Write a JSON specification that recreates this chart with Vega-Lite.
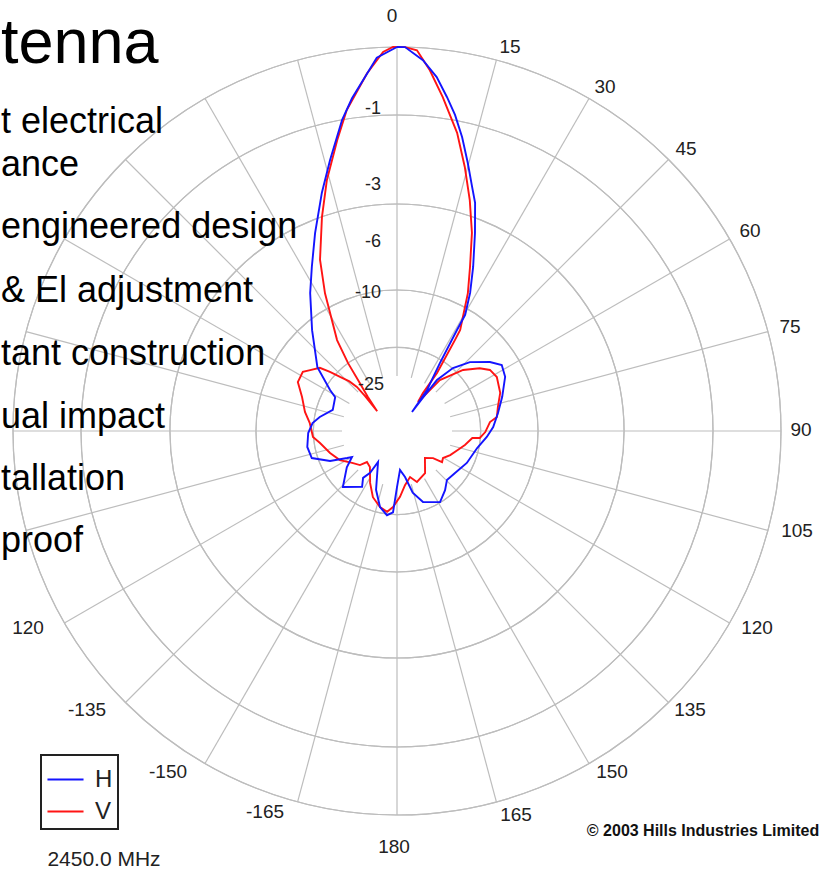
{
  "$schema": "https://vega.github.io/schema/vega-lite/v6.json",
  "width": 836,
  "height": 871,
  "padding": 0,
  "autosize": {"type": "none"},
  "background": "white",
  "config": {
    "view": {"stroke": null},
    "font": "Liberation Sans",
    "legend": {"strokeWidth": 2}
  },
  "layer": [
    {
      "data": {"values": [{"db": 0}, {"db": -1}, {"db": -3}, {"db": -6}, {"db": -10}, {"db": -25}]},
      "mark": {"type": "arc", "filled": false, "stroke": "#bdbdbd", "strokeWidth": 1.2, "theta": 0, "theta2": 6.2832},
      "encoding": {
        "x": {"datum": 0, "type": "quantitative", "scale": {"domain": [-397, 439], "nice": false, "zero": false}, "axis": null},
        "y": {"datum": 0, "type": "quantitative", "scale": {"domain": [-440, 431], "nice": false, "zero": false}, "axis": null},
        "radius": {"field": "db", "type": "quantitative", "scale": {"type": "linear", "domain": [-45, -25, -10, -6, -3, -1, 0], "range": [0, 55, 141, 189, 246, 316, 384], "zero": false, "nice": false}, "legend": null}
      }
    },
    {
      "data": {"values": [{"ang": 0}, {"ang": 15}, {"ang": 30}, {"ang": 45}, {"ang": 60}, {"ang": 75}, {"ang": 90}, {"ang": 105}, {"ang": 120}, {"ang": 135}, {"ang": 150}, {"ang": 165}, {"ang": 180}, {"ang": 195}, {"ang": 210}, {"ang": 225}, {"ang": 240}, {"ang": 255}, {"ang": 270}, {"ang": 285}, {"ang": 300}, {"ang": 315}, {"ang": 330}, {"ang": 345}]},
      "transform": [
        {"calculate": "datum.ang * PI / 180", "as": "a"},
        {"calculate": "55 * sin(datum.a)", "as": "x1"},
        {"calculate": "55 * cos(datum.a)", "as": "y1"},
        {"calculate": "384 * sin(datum.a)", "as": "x2"},
        {"calculate": "384 * cos(datum.a)", "as": "y2"}
      ],
      "mark": {"type": "rule", "stroke": "#bdbdbd", "strokeWidth": 1.2},
      "encoding": {
        "x": {"field": "x1", "type": "quantitative", "scale": {"domain": [-397, 439], "nice": false, "zero": false}, "axis": null},
        "y": {"field": "y1", "type": "quantitative", "scale": {"domain": [-440, 431], "nice": false, "zero": false}, "axis": null},
        "x2": {"field": "x2"},
        "y2": {"field": "y2"}
      }
    },
    {
      "data": {"values": [
        {"s": "V", "i": 1, "ang": -45.0, "db": -34.8},
        {"s": "V", "i": 2, "ang": -40.5, "db": -28.7},
        {"s": "V", "i": 3, "ang": -37.4, "db": -23.4},
        {"s": "V", "i": 4, "ang": -35.8, "db": -20.0},
        {"s": "V", "i": 5, "ang": -33.4, "db": -15.6},
        {"s": "V", "i": 6, "ang": -27.6, "db": -8.8},
        {"s": "V", "i": 7, "ang": -24.2, "db": -6.1},
        {"s": "V", "i": 8, "ang": -19.3, "db": -4.0},
        {"s": "V", "i": 9, "ang": -15.6, "db": -2.58},
        {"s": "V", "i": 10, "ang": -11.6, "db": -1.54},
        {"s": "V", "i": 11, "ang": -8.9, "db": -0.87},
        {"s": "V", "i": 12, "ang": -4.8, "db": -0.37},
        {"s": "V", "i": 13, "ang": -2.1, "db": -0.07},
        {"s": "V", "i": 14, "ang": -0.6, "db": 0},
        {"s": "V", "i": 15, "ang": 1.2, "db": 0},
        {"s": "V", "i": 16, "ang": 3.0, "db": -0.04},
        {"s": "V", "i": 17, "ang": 5.2, "db": -0.32},
        {"s": "V", "i": 18, "ang": 7.8, "db": -0.69},
        {"s": "V", "i": 19, "ang": 11.4, "db": -1.34},
        {"s": "V", "i": 20, "ang": 14.4, "db": -2.24},
        {"s": "V", "i": 21, "ang": 17.5, "db": -3.21},
        {"s": "V", "i": 22, "ang": 20.7, "db": -4.79},
        {"s": "V", "i": 23, "ang": 24.0, "db": -6.79},
        {"s": "V", "i": 24, "ang": 27.2, "db": -8.83},
        {"s": "V", "i": 25, "ang": 32.0, "db": -13.8},
        {"s": "V", "i": 26, "ang": 32.5, "db": -15.8},
        {"s": "V", "i": 27, "ang": 34.6, "db": -22.3},
        {"s": "V", "i": 28, "ang": 34.4, "db": -28.3},
        {"s": "V", "i": 29, "ang": 36.0, "db": -32.0},
        {"s": "V", "i": 30, "ang": 40.1, "db": -23.0},
        {"s": "V", "i": 31, "ang": 47.3, "db": -18.9},
        {"s": "V", "i": 32, "ang": 52.8, "db": -16.5},
        {"s": "V", "i": 33, "ang": 56.7, "db": -15.2},
        {"s": "V", "i": 34, "ang": 61.6, "db": -14.8},
        {"s": "V", "i": 35, "ang": 69.7, "db": -15.4},
        {"s": "V", "i": 36, "ang": 76.6, "db": -16.5},
        {"s": "V", "i": 37, "ang": 82.0, "db": -17.0},
        {"s": "V", "i": 38, "ang": 84.5, "db": -18.3},
        {"s": "V", "i": 39, "ang": 90.7, "db": -19.2},
        {"s": "V", "i": 40, "ang": 94.8, "db": -20.1},
        {"s": "V", "i": 41, "ang": 95.3, "db": -21.4},
        {"s": "V", "i": 42, "ang": 101.6, "db": -22.5},
        {"s": "V", "i": 43, "ang": 107.3, "db": -23.5},
        {"s": "V", "i": 44, "ang": 114.4, "db": -24.4},
        {"s": "V", "i": 45, "ang": 120.4, "db": -25.6},
        {"s": "V", "i": 46, "ang": 124.6, "db": -25.1},
        {"s": "V", "i": 47, "ang": 126.9, "db": -28.6},
        {"s": "V", "i": 48, "ang": 133.9, "db": -30.9},
        {"s": "V", "i": 49, "ang": 146.3, "db": -26.6},
        {"s": "V", "i": 50, "ang": 158.6, "db": -25.1},
        {"s": "V", "i": 51, "ang": 164.2, "db": -27.6},
        {"s": "V", "i": 52, "ang": 171.6, "db": -25.1},
        {"s": "V", "i": 53, "ang": 177.4, "db": -23.1},
        {"s": "V", "i": 54, "ang": -177.0, "db": -21.3},
        {"s": "V", "i": 55, "ang": -173.0, "db": -20.4},
        {"s": "V", "i": 56, "ang": -167.4, "db": -21.0},
        {"s": "V", "i": 57, "ang": -160.0, "db": -22.3},
        {"s": "V", "i": 58, "ang": -152.6, "db": -24.4},
        {"s": "V", "i": 59, "ang": -143.1, "db": -28.6},
        {"s": "V", "i": 60, "ang": -135.9, "db": -29.3},
        {"s": "V", "i": 61, "ang": -132.6, "db": -26.7},
        {"s": "V", "i": 62, "ang": -125.4, "db": -25.0},
        {"s": "V", "i": 63, "ang": -117.0, "db": -23.4},
        {"s": "V", "i": 64, "ang": -108.2, "db": -22.3},
        {"s": "V", "i": 65, "ang": -98.9, "db": -21.0},
        {"s": "V", "i": 66, "ang": -94.1, "db": -19.9},
        {"s": "V", "i": 67, "ang": -84.7, "db": -19.3},
        {"s": "V", "i": 68, "ang": -78.3, "db": -18.2},
        {"s": "V", "i": 69, "ang": -70.3, "db": -17.0},
        {"s": "V", "i": 70, "ang": -63.7, "db": -15.3},
        {"s": "V", "i": 71, "ang": -57.9, "db": -15.2},
        {"s": "V", "i": 72, "ang": -55.0, "db": -16.1},
        {"s": "V", "i": 73, "ang": -50.7, "db": -17.2},
        {"s": "V", "i": 74, "ang": -48.6, "db": -19.0},
        {"s": "V", "i": 75, "ang": -46.5, "db": -20.9},
        {"s": "V", "i": 76, "ang": -43.8, "db": -22.6},
        {"s": "V", "i": 77, "ang": -42.3, "db": -24.2},
        {"s": "V", "i": 78, "ang": -42.4, "db": -27.8},
        {"s": "V", "i": 79, "ang": -45.0, "db": -34.8},
        {"s": "H", "i": 1, "ang": 0, "db": 0},
        {"s": "H", "i": 2, "ang": 1.2, "db": 0},
        {"s": "H", "i": 3, "ang": 4.0, "db": -0.18},
        {"s": "H", "i": 4, "ang": 6.4, "db": -0.41},
        {"s": "H", "i": 5, "ang": 8.5, "db": -0.68},
        {"s": "H", "i": 6, "ang": 10.4, "db": -0.92},
        {"s": "H", "i": 7, "ang": 12.5, "db": -1.43},
        {"s": "H", "i": 8, "ang": 14.8, "db": -2.11},
        {"s": "H", "i": 9, "ang": 17.1, "db": -2.73},
        {"s": "H", "i": 10, "ang": 18.9, "db": -3.26},
        {"s": "H", "i": 11, "ang": 21.5, "db": -4.75},
        {"s": "H", "i": 12, "ang": 24.9, "db": -6.68},
        {"s": "H", "i": 13, "ang": 27.9, "db": -8.73},
        {"s": "H", "i": 14, "ang": 30.4, "db": -11.1},
        {"s": "H", "i": 15, "ang": 30.7, "db": -14.1},
        {"s": "H", "i": 16, "ang": 32.3, "db": -20.6},
        {"s": "H", "i": 17, "ang": 36.2, "db": -26.5},
        {"s": "H", "i": 18, "ang": 38.3, "db": -36.2},
        {"s": "H", "i": 19, "ang": 37.9, "db": -28.4},
        {"s": "H", "i": 20, "ang": 38.1, "db": -23.3},
        {"s": "H", "i": 21, "ang": 41.6, "db": -19.9},
        {"s": "H", "i": 22, "ang": 46.6, "db": -17.1},
        {"s": "H", "i": 23, "ang": 53.4, "db": -14.4},
        {"s": "H", "i": 24, "ang": 57.8, "db": -13.0},
        {"s": "H", "i": 25, "ang": 63.4, "db": -13.5},
        {"s": "H", "i": 26, "ang": 72.0, "db": -15.3},
        {"s": "H", "i": 27, "ang": 79.9, "db": -16.7},
        {"s": "H", "i": 28, "ang": 87.6, "db": -17.8},
        {"s": "H", "i": 29, "ang": 93.8, "db": -18.9},
        {"s": "H", "i": 30, "ang": 102.0, "db": -20.3},
        {"s": "H", "i": 31, "ang": 114.6, "db": -21.2},
        {"s": "H", "i": 32, "ang": 125.9, "db": -22.1},
        {"s": "H", "i": 33, "ang": 134.4, "db": -22.4},
        {"s": "H", "i": 34, "ang": 140.9, "db": -21.3},
        {"s": "H", "i": 35, "ang": 148.8, "db": -20.1},
        {"s": "H", "i": 36, "ang": 159.9, "db": -21.4},
        {"s": "H", "i": 37, "ang": 165.7, "db": -23.5},
        {"s": "H", "i": 38, "ang": 170.1, "db": -28.0},
        {"s": "H", "i": 39, "ang": 175.6, "db": -30.8},
        {"s": "H", "i": 40, "ang": 180.0, "db": -24.8},
        {"s": "H", "i": 41, "ang": -177.2, "db": -20.4},
        {"s": "H", "i": 42, "ang": -173.2, "db": -19.8},
        {"s": "H", "i": 43, "ang": -167.4, "db": -21.0},
        {"s": "H", "i": 44, "ang": -160.4, "db": -23.7},
        {"s": "H", "i": 45, "ang": -148.5, "db": -31.8},
        {"s": "H", "i": 46, "ang": -147.3, "db": -26.9},
        {"s": "H", "i": 47, "ang": -144.1, "db": -24.5},
        {"s": "H", "i": 48, "ang": -148.0, "db": -23.1},
        {"s": "H", "i": 49, "ang": -136.0, "db": -21.0},
        {"s": "H", "i": 50, "ang": -125.8, "db": -23.8},
        {"s": "H", "i": 51, "ang": -120.0, "db": -26.1},
        {"s": "H", "i": 52, "ang": -118.4, "db": -24.7},
        {"s": "H", "i": 53, "ang": -114.1, "db": -21.8},
        {"s": "H", "i": 54, "ang": -107.6, "db": -19.0},
        {"s": "H", "i": 55, "ang": -100.1, "db": -18.7},
        {"s": "H", "i": 56, "ang": -91.3, "db": -19.1},
        {"s": "H", "i": 57, "ang": -84.6, "db": -19.8},
        {"s": "H", "i": 58, "ang": -79.7, "db": -20.9},
        {"s": "H", "i": 59, "ang": -71.8, "db": -22.8},
        {"s": "H", "i": 60, "ang": -61.3, "db": -22.3},
        {"s": "H", "i": 61, "ang": -58.5, "db": -20.9},
        {"s": "H", "i": 62, "ang": -51.3, "db": -16.8},
        {"s": "H", "i": 63, "ang": -40.1, "db": -11.6},
        {"s": "H", "i": 64, "ang": -32.2, "db": -8.17},
        {"s": "H", "i": 65, "ang": -27.4, "db": -6.33},
        {"s": "H", "i": 66, "ang": -22.5, "db": -4.68},
        {"s": "H", "i": 67, "ang": -17.5, "db": -2.89},
        {"s": "H", "i": 68, "ang": -13.9, "db": -2.06},
        {"s": "H", "i": 69, "ang": -10.0, "db": -1.0},
        {"s": "H", "i": 70, "ang": -7.7, "db": -0.71},
        {"s": "H", "i": 71, "ang": -3.1, "db": -0.15},
        {"s": "H", "i": 72, "ang": 0, "db": 0}
      ]},
      "transform": [
        {"calculate": "datum.db >= -1 ? 384 + 68 * datum.db : datum.db >= -3 ? 316 + 35 * (datum.db + 1) : datum.db >= -6 ? 246 + 19 * (datum.db + 3) : datum.db >= -10 ? 189 + 12 * (datum.db + 6) : datum.db >= -25 ? 141 + 5.7333 * (datum.db + 10) : max(0, 55 + 2.75 * (datum.db + 25))", "as": "r"},
        {"calculate": "datum.r * sin(datum.ang * PI / 180)", "as": "px"},
        {"calculate": "datum.r * cos(datum.ang * PI / 180)", "as": "py"}
      ],
      "mark": {"type": "line", "strokeWidth": 1.9, "interpolate": "linear"},
      "encoding": {
        "x": {"field": "px", "type": "quantitative", "scale": {"domain": [-397, 439], "nice": false, "zero": false}, "axis": null},
        "y": {"field": "py", "type": "quantitative", "scale": {"domain": [-440, 431], "nice": false, "zero": false}, "axis": null},
        "order": {"field": "i", "type": "quantitative"},
        "color": {
          "field": "s",
          "type": "nominal",
          "scale": {"domain": ["H", "V"], "range": ["#1414ff", "#ff1414"]},
          "legend": {
            "title": null,
            "orient": "none",
            "legendX": 41,
            "legendY": 755,
            "direction": "vertical",
            "symbolType": "stroke",
            "symbolSize": 1300,
            "symbolStrokeWidth": 2,
            "labelFontSize": 24,
            "labelFont": "Liberation Sans",
            "labelColor": "#222",
            "labelOffset": 10,
            "strokeColor": "#222",
            "padding": 5,
            "rowPadding": 0
          }
        }
      }
    },
    {
      "data": {"values": [
        {"t": "0", "x": -5, "y": 415},
        {"t": "15", "x": 113, "y": 384},
        {"t": "30", "x": 208, "y": 344},
        {"t": "45", "x": 289, "y": 282},
        {"t": "60", "x": 353, "y": 200},
        {"t": "75", "x": 393, "y": 104},
        {"t": "90", "x": 404, "y": 1},
        {"t": "105", "x": 400, "y": -100},
        {"t": "120", "x": 360, "y": -197},
        {"t": "135", "x": 293, "y": -279},
        {"t": "150", "x": 215, "y": -341},
        {"t": "165", "x": 119, "y": -384},
        {"t": "180", "x": -3, "y": -416},
        {"t": "-165", "x": -132, "y": -381},
        {"t": "-150", "x": -229, "y": -341},
        {"t": "-135", "x": -310, "y": -279},
        {"t": "120", "x": -369, "y": -197}
      ]},
      "mark": {"type": "text", "fontSize": 19, "align": "center", "baseline": "middle", "color": "#222"},
      "encoding": {
        "x": {"field": "x", "type": "quantitative", "scale": {"domain": [-397, 439], "nice": false, "zero": false}, "axis": null},
        "y": {"field": "y", "type": "quantitative", "scale": {"domain": [-440, 431], "nice": false, "zero": false}, "axis": null},
        "text": {"field": "t"}
      }
    },
    {
      "data": {"values": [
        {"t": "-1", "x": -16, "y": 322},
        {"t": "-3", "x": -16, "y": 246},
        {"t": "-6", "x": -16, "y": 189},
        {"t": "-10", "x": -16, "y": 138},
        {"t": "-25", "x": -13, "y": 46}
      ]},
      "mark": {"type": "text", "fontSize": 18, "align": "right", "baseline": "middle", "color": "#222"},
      "encoding": {
        "x": {"field": "x", "type": "quantitative", "scale": {"domain": [-397, 439], "nice": false, "zero": false}, "axis": null},
        "y": {"field": "y", "type": "quantitative", "scale": {"domain": [-440, 431], "nice": false, "zero": false}, "axis": null},
        "text": {"field": "t"}
      }
    },
    {
      "data": {"values": [{"t": "tenna", "x": -396, "y": 368}]},
      "mark": {"type": "text", "fontSize": 63, "align": "left", "baseline": "alphabetic", "color": "#000"},
      "encoding": {
        "x": {"field": "x", "type": "quantitative", "scale": {"domain": [-397, 439], "nice": false, "zero": false}, "axis": null},
        "y": {"field": "y", "type": "quantitative", "scale": {"domain": [-440, 431], "nice": false, "zero": false}, "axis": null},
        "text": {"field": "t"}
      }
    },
    {
      "data": {"values": [
        {"t": "t electrical", "x": -396, "y": 298},
        {"t": "ance", "x": -396, "y": 255},
        {"t": "engineered design", "x": -396, "y": 193},
        {"t": "& El adjustment", "x": -396, "y": 129},
        {"t": "tant construction", "x": -396, "y": 66},
        {"t": "ual impact", "x": -396, "y": 3},
        {"t": "tallation", "x": -396, "y": -59},
        {"t": "proof", "x": -396, "y": -121}
      ]},
      "mark": {"type": "text", "fontSize": 36, "align": "left", "baseline": "alphabetic", "color": "#000"},
      "encoding": {
        "x": {"field": "x", "type": "quantitative", "scale": {"domain": [-397, 439], "nice": false, "zero": false}, "axis": null},
        "y": {"field": "y", "type": "quantitative", "scale": {"domain": [-440, 431], "nice": false, "zero": false}, "axis": null},
        "text": {"field": "t"}
      }
    },
    {
      "data": {"values": [{"t": "2450.0 MHz", "x": -293, "y": -429}]},
      "mark": {"type": "text", "fontSize": 21, "align": "center", "baseline": "middle", "color": "#222"},
      "encoding": {
        "x": {"field": "x", "type": "quantitative", "scale": {"domain": [-397, 439], "nice": false, "zero": false}, "axis": null},
        "y": {"field": "y", "type": "quantitative", "scale": {"domain": [-440, 431], "nice": false, "zero": false}, "axis": null},
        "text": {"field": "t"}
      }
    },
    {
      "data": {"values": [{"t": "© 2003 Hills Industries Limited", "x": 306, "y": -400}]},
      "mark": {"type": "text", "fontSize": 16, "fontWeight": "bold", "align": "center", "baseline": "middle", "color": "#111"},
      "encoding": {
        "x": {"field": "x", "type": "quantitative", "scale": {"domain": [-397, 439], "nice": false, "zero": false}, "axis": null},
        "y": {"field": "y", "type": "quantitative", "scale": {"domain": [-440, 431], "nice": false, "zero": false}, "axis": null},
        "text": {"field": "t"}
      }
    }
  ]
}
